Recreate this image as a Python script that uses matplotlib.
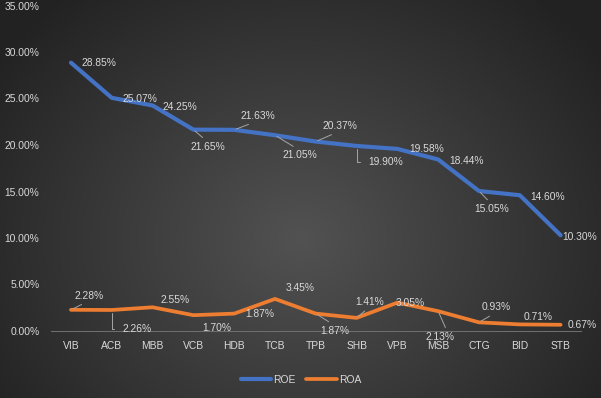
import numpy as np
import matplotlib
matplotlib.use("Agg")
import matplotlib.pyplot as plt
from matplotlib.ticker import FuncFormatter

# ---------------- data ----------------
banks = ["VIB", "ACB", "MBB", "VCB", "HDB", "TCB", "TPB", "SHB", "VPB", "MSB", "CTG", "BID", "STB"]
roe = [28.85, 25.07, 24.25, 21.65, 21.63, 21.05, 20.37, 19.90, 19.58, 18.44, 15.05, 14.60, 10.30]
roa = [2.28, 2.26, 2.55, 1.70, 1.87, 3.45, 1.87, 1.41, 3.05, 2.13, 0.93, 0.71, 0.67]
yticks = [0, 5, 10, 15, 20, 25, 30, 35]

# ---------------- label layout (pixel offsets of label centre from point) ----------------
roe_off = [(28, 0), (28, -1), (27, -1.5), (14, -17), (23.5, 14), (24.5, -20), (24, 15.5),
           (29, -16), (29, 0), (28.5, -1.5), (12.5, -18), (28, -2), (19, -2)]
roe_lead = [None, None, None, (0.5, 1), (0.5, 0), (0.5, 1), (0.5, 0),
            "elbow", None, None, (0.5, 1), None, None]
roa_off = [(18, 14), (25.5, -19), (22.5, 7), (23.5, -13), (26, 0), (25, 11), (19, -17),
           (13, 16), (13, 0), (2, -26), (17, 15), (18, 7), (21.5, 0)]
roa_lead = [(0.5, 0), "elbow", None, None, None, None, (0.5, 1),
            (0.5, 0), None, (0.75, 1), (0.5, 0), None, None]

TXT = "#d9d9d9"
LEAD = "#a6a6a6"
BLUE = "#4472C4"
ORANGE = "#ED7D31"
FONT = "Liberation Sans"
FS = 7.4

W, H = 601, 398
fig = plt.figure(figsize=(W / 100, H / 100), dpi=100)

# background radial gradient
bg = fig.add_axes([0, 0, 1, 1], zorder=-10)
yy, xx = np.mgrid[0:H, 0:W]
r = np.sqrt(((xx - 0.5 * W) / (0.62 * W)) ** 2 + ((yy - 0.6 * H) / (0.8 * H)) ** 2)
r = np.clip(r, 0, 1)
c_center = np.array([0x52, 0x52, 0x52]) / 255
c_edge = np.array([0x22, 0x22, 0x22]) / 255
img = c_center[None, None, :] + (c_edge - c_center)[None, None, :] * r[..., None]
bg.imshow(img, aspect="auto", extent=[0, 1, 0, 1], origin="upper")
bg.axis("off")

ax = fig.add_axes([50.6 / W, (H - 331) / H, (581 - 50.6) / W, (331 - 5.5) / H])
ax.set_facecolor("none")
x = np.arange(len(banks)) + 0.5

ax.plot(x, roe, color=BLUE, lw=3.0, solid_capstyle="round", solid_joinstyle="round", label="ROE", zorder=3)
ax.plot(x, roa, color=ORANGE, lw=2.7, solid_capstyle="round", solid_joinstyle="round", label="ROA", zorder=3)

ax.set_xlim(0, len(banks))
ax.set_ylim(0, 35)
ax.set_yticks(yticks)
ax.yaxis.set_major_formatter(FuncFormatter(lambda v, p: f"{v:.2f}%"))
ax.set_xticks(x)
ax.set_xticklabels(banks)
for lab in ax.get_xticklabels() + ax.get_yticklabels():
    lab.set_fontfamily(FONT)
    lab.set_fontsize(FS)
    lab.set_color(TXT)
ax.tick_params(axis="y", length=0, pad=8.0)
ax.tick_params(axis="x", length=0, pad=7.5)
for s in ["top", "right", "left"]:
    ax.spines[s].set_visible(False)
ax.spines["bottom"].set_color("#6e6e6e")
ax.spines["bottom"].set_linewidth(0.75)


def add_labels(vals, offs, leads):
    for xi, v, (dx, dy), ld in zip(x, vals, offs, leads):
        kw = {}
        if ld == "elbow":
            kw["arrowprops"] = dict(arrowstyle="-", color=LEAD, lw=0.7, shrinkA=4, shrinkB=2,
                                    relpos=(0, 0.5), connectionstyle="angle,angleA=0,angleB=90,rad=0")
        elif ld is not None:
            kw["arrowprops"] = dict(arrowstyle="-", color=LEAD, lw=0.7, shrinkA=1.5, shrinkB=1.5,
                                    relpos=ld)
        ax.annotate(f"{v:.2f}%", xy=(xi, v), xytext=(dx, dy), textcoords="offset pixels",
                    ha="center", va="center", fontsize=FS, family=FONT, color=TXT,
                    annotation_clip=False, zorder=5, **kw)


add_labels(roe, roe_off, roe_lead)
add_labels(roa, roa_off, roa_lead)

leg = fig.legend(loc="center", bbox_to_anchor=(301 / W, (H - 380) / H), ncol=2, frameon=False,
                 prop={"family": FONT, "size": FS}, handlelength=3.0, handletextpad=0.2,
                 columnspacing=1.0, borderpad=0)
for t in leg.get_texts():
    t.set_color(TXT)

fig.savefig("out.png", dpi=100)
